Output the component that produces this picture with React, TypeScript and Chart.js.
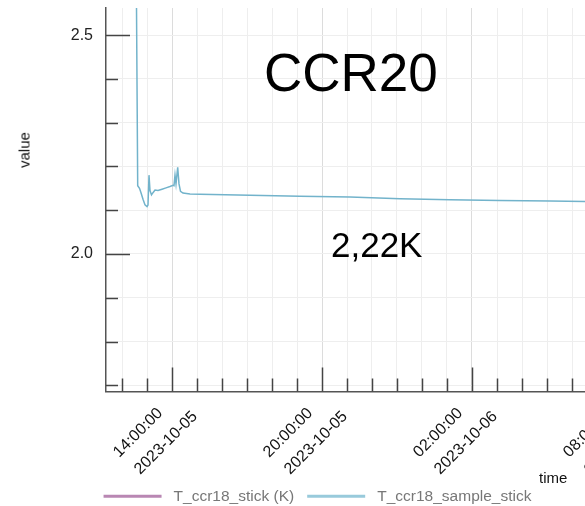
import React, { useEffect, useRef } from 'react';
import { Chart, registerables } from 'chart.js';

Chart.register(...registerables);

// time axis: hours counted from 2023-10-05 00:00:00
const sampleHours = [
  12.576, 12.628, 12.7, 12.76, 12.84, 12.92, 13.0, 13.04, 13.08, 13.12, 13.18, 13.24, 13.32, 13.44,
  13.6, 13.76, 13.92, 14.04, 14.08, 14.12, 14.16, 14.228, 14.28, 14.34, 14.44, 14.72, 15.12, 17.12,
  19.12, 21.12, 23.12, 25.12, 27.12, 29.12, 30.52, 32.52,
];
const sampleStickK = [
  2.6, 2.156, 2.15, 2.14, 2.125, 2.112, 2.108, 2.112, 2.18, 2.145, 2.135, 2.14, 2.146, 2.145,
  2.148, 2.151, 2.154, 2.157, 2.156, 2.18, 2.16, 2.198, 2.16, 2.143, 2.139, 2.137, 2.1365, 2.134,
  2.132, 2.13, 2.126, 2.124, 2.122, 2.121, 2.12, 2.118,
];
const stickHours: number[] = [];
const stickK: number[] = [];

const seriesNames = ['T_ccr18_stick (K)', 'T_ccr18_sample_stick'];
const yTickValues = [1.7, 1.8, 1.9, 2.0, 2.1, 2.2, 2.3, 2.4, 2.5];
const yLabelValues = [2.0, 2.5];
const xTickHours = [12, 13, 14, 15, 16, 17, 18, 19, 20, 21, 22, 23, 24, 25, 26, 27, 28, 29, 30, 31, 32];
const xLabelHours = [14, 20, 26, 32];
const dayLabels = ['2023-10-05', '2023-10-06'];

const X_MIN = 11.36;
const X_MAX = 32.52;
const Y_MIN = 1.6858;
const Y_MAX = 2.5619;

const FONT = "'Liberation Sans', Arial, Helvetica, sans-serif";

function fmtHour(h: number): string[] {
  const day = Math.floor(h / 24);
  const hh = ((h % 24) + 24) % 24;
  // trailing spaces stagger the two rotated lines like the original
  return [`${String(hh).padStart(2, '0')}:00:00     `, dayLabels[day] ?? ''];
}

const innerTicks = {
  id: 'innerTicks',
  afterDraw(chart: any) {
    const { ctx, chartArea, scales } = chart;
    const x = scales.x;
    const y = scales.y;
    ctx.save();
    ctx.strokeStyle = '#444';
    ctx.lineWidth = 1.5;
    ctx.beginPath();
    y.ticks.forEach((t: any) => {
      const py = Math.round(y.getPixelForValue(t.value)) + 0.5;
      const major = yLabelValues.some((v) => Math.abs(v - t.value) < 1e-6);
      const len = major ? 24 : 12;
      ctx.moveTo(chartArea.left, py);
      ctx.lineTo(chartArea.left + len, py);
    });
    x.ticks.forEach((t: any) => {
      const px = Math.round(x.getPixelForValue(t.value)) + 0.5;
      if (px < chartArea.left) return;
      const major = xLabelHours.includes(t.value);
      const len = major ? 24 : 13;
      ctx.moveTo(px, chartArea.bottom);
      ctx.lineTo(px, chartArea.bottom - len);
    });
    ctx.stroke();
    ctx.restore();
  },
};

function zeroPadding(scale: any) {
  scale.paddingTop = 0;
  scale.paddingBottom = 0;
  scale.paddingLeft = 0;
  scale.paddingRight = 0;
}

export default function App() {
  const ref = useRef<HTMLCanvasElement | null>(null);

  useEffect(() => {
    if (!ref.current) return;
    Chart.defaults.font.family = FONT;
    const chart = new Chart(ref.current, {
      type: 'line',
      data: {
        datasets: [
          {
            label: seriesNames[0],
            data: stickHours.map((h, i) => ({ x: h, y: stickK[i] })),
            borderColor: '#b987b3',
            backgroundColor: '#b987b3',
            borderWidth: 1.5,
            pointRadius: 0,
          },
          {
            label: seriesNames[1],
            data: sampleHours.map((h, i) => ({ x: h, y: sampleStickK[i] })),
            borderColor: '#72b3cb',
            backgroundColor: '#98cadb',
            borderWidth: 1.5,
            pointRadius: 0,
            tension: 0,
          },
        ],
      },
      options: {
        responsive: false,
        animation: false,
        events: [],
        layout: { padding: { top: 8, right: 5, left: 0, bottom: -8 } },
        plugins: {
          legend: {
            position: 'bottom',
            labels: {
              boxWidth: 58,
              boxHeight: 3,
              padding: 13,
              color: '#777',
              font: { size: 15.5, family: FONT },
              generateLabels(chart: any) {
                const items = Chart.defaults.plugins.legend.labels.generateLabels(chart);
                return items.map((it: any) => ({
                  ...it,
                  text: ' ' + it.text,
                  strokeStyle: it.fillStyle,
                  lineWidth: 0,
                }));
              },
            },
          },
          tooltip: { enabled: false },
        },
        scales: {
          x: {
            type: 'linear',
            min: X_MIN,
            max: X_MAX,
            afterBuildTicks(scale: any) {
              scale.ticks = xTickHours.map((v) => ({ value: v }));
            },
            afterFit(scale: any) {
              scale.height = 84;
              zeroPadding(scale);
            },
            ticks: {
              autoSkip: false,
              minRotation: 45,
              maxRotation: 45,
              padding: -6,
              labelOffset: 4,
              color: '#111',
              font: { size: 16, family: FONT, lineHeight: 1.68 },
              callback(value: any) {
                const v = Number(value);
                return xLabelHours.includes(v) ? fmtHour(v) : '';
              },
            },
            grid: {
              drawTicks: false,
              lineWidth: 1,
              color(ctx: any) {
                const v = ctx.tick ? ctx.tick.value : NaN;
                return xLabelHours.includes(v) ? '#dcdcdc' : '#eeeeee';
              },
            },
            border: { display: true, color: '#555', width: 1.5 },
          },
          y: {
            type: 'linear',
            min: Y_MIN,
            max: Y_MAX,
            afterBuildTicks(scale: any) {
              scale.ticks = yTickValues.map((v) => ({ value: v }));
            },
            afterFit(scale: any) {
              scale.width = 106;
              zeroPadding(scale);
            },
            ticks: {
              padding: 13,
              color: '#222',
              font: { size: 16, family: FONT },
              callback(value: any) {
                const v = Number(value);
                return yLabelValues.some((l) => Math.abs(l - v) < 1e-6) ? v.toFixed(1) : '';
              },
            },
            grid: { drawTicks: false, color: '#eeeeee', lineWidth: 1 },
            border: { display: true, color: '#555', width: 1.5 },
          },
        },
      },
      plugins: [innerTicks],
    } as any);
    return () => chart.destroy();
  }, []);

  const overlay: React.CSSProperties = {
    position: 'absolute',
    fontFamily: FONT,
    lineHeight: 1,
    whiteSpace: 'nowrap',
    color: '#000',
  };

  return (
    <div
      style={{
        position: 'absolute',
        left: 0,
        top: 0,
        width: 585,
        height: 506,
        overflow: 'hidden',
        background: '#fff',
      }}
    >
      <canvas ref={ref} width={640} height={506} style={{ display: 'block' }} />
      <div style={{ ...overlay, left: 264, top: 46, fontSize: 53 }}>CCR20</div>
      <div style={{ ...overlay, left: 331, top: 227, fontSize: 35 }}>2,22K</div>
      <div style={{ ...overlay, left: 539, top: 470, fontSize: 15, color: '#111' }}>time</div>
      <div
        style={{
          ...overlay,
          left: 24,
          top: 150,
          fontSize: 15,
          color: '#111',
          transform: 'translate(-50%, -50%) rotate(-90deg)',
        }}
      >
        value
      </div>
    </div>
  );
}
